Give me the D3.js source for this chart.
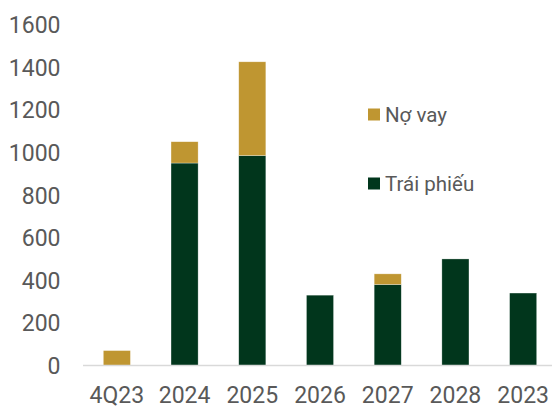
<!DOCTYPE html>
<html>
<head>
<meta charset="utf-8">
<script src="https://cdn.jsdelivr.net/npm/d3@7"></script>
<style>
  html, body { margin: 0; padding: 0; background: #fff; }
  svg { display: block; font-family: Roboto, "Noto Sans", sans-serif; }
</style>
</head>
<body>
<svg id="chart" width="552" height="408"></svg>
<script>
// Maturity schedule: bonds (Trái phiếu) and loans (Nợ vay)
const categories = ["4Q23", "2024", "2025", "2026", "2027", "2028", "2023"];
const traiPhieu = [0, 950, 985, 330, 380, 500, 340];
const noVay = [70, 100, 440, 0, 50, 0, 0];
const yTicks = [0, 200, 400, 600, 800, 1000, 1200, 1400, 1600];

const seriesNames = ["Trái phiếu", "Nợ vay"];
const colors = { "Trái phiếu": "#01361C", "Nợ vay": "#BF9631" };

const rows = categories.map((c, i) => ({ cat: c, "Trái phiếu": traiPhieu[i], "Nợ vay": noVay[i] }));
const stacked = d3.stack().keys(seriesNames)(rows);

const svg = d3.select("#chart");
const plotLeft = 83, plotRight = 557, plotTop = 24.5, plotBottom = 365.5;

const x = d3.scaleBand().domain(categories).range([plotLeft, plotRight]).paddingInner(0.6).paddingOuter(0.3);
const y = d3.scaleLinear().domain([0, 1600]).range([plotBottom, plotTop]);

// bars
svg.append("g").selectAll("g")
  .data(stacked)
  .join("g")
  .attr("fill", d => colors[d.key])
  .selectAll("rect")
  .data(d => d.filter(p => p[1] - p[0] > 0))
  .join("rect")
  .attr("x", d => x(d.data.cat))
  .attr("width", x.bandwidth())
  .attr("y", d => y(d[1]))
  .attr("height", d => y(d[0]) - y(d[1]))
  .attr("stroke", "#ffffff")
  .attr("stroke-opacity", 0.5)
  .attr("stroke-width", 0.6);

// baseline
svg.append("line")
  .attr("x1", plotLeft).attr("x2", 552)
  .attr("y1", y(0)).attr("y2", y(0))
  .attr("stroke", "#d9d9d9").attr("stroke-width", 1.5);

// y axis labels
const yAxis = d3.axisLeft(y).tickValues(yTicks).tickSize(0).tickPadding(0).tickFormat(d3.format("d"));
const gy = svg.append("g").attr("transform", "translate(60.5,0)").call(yAxis);
gy.select(".domain").remove();
gy.selectAll("text").attr("fill", "#595959").style("font-size", "23px").style("font-family", "Roboto, sans-serif").attr("dy", "0.35em");

// x axis labels
const xAxis = d3.axisBottom(x).tickSize(0).tickPadding(0);
const gx = svg.append("g").attr("transform", `translate(0,${y(0)})`).call(xAxis);
gx.select(".domain").remove();
gx.selectAll("text").attr("fill", "#595959").style("font-size", "23px").style("font-family", "Roboto, sans-serif").attr("y", 37).attr("dy", 0);

// legend
const legendItems = [
  { name: "Nợ vay", y: 114.5 },
  { name: "Trái phiếu", y: 183.5 }
];
const lg = svg.append("g").selectAll("g").data(legendItems).join("g")
  .attr("transform", d => `translate(368,${d.y})`);
lg.append("rect").attr("x", 0).attr("y", -6).attr("width", 12).attr("height", 12)
  .attr("fill", d => colors[d.name]);
lg.append("text").attr("x", 17).attr("y", 0).attr("dy", "0.35em")
  .attr("fill", "#595959").style("font-size", "20.5px")
  .text(d => d.name);
</script>
</body>
</html>
